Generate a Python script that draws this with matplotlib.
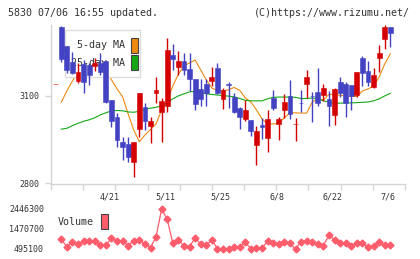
import matplotlib
matplotlib.use('Agg')
import matplotlib.pyplot as plt
from matplotlib.patches import Rectangle
import numpy as np

HEADER_LEFT = '5830 07/06 16:55 updated.'
HEADER_RIGHT = '(C)https://www.rizumu.net/'

DATE_LABELS = ['4/21', '5/11', '5/25', '6/8', '6/22', '7/6']
DATE_INDEX = [10, 20, 30, 40, 50, 60]
PRICE_TICKS = [2800, 3100]

OPEN = [3141, 3335, 3270, 3215, 3150, 3209, 3206, 3204, 3214, 3218,
        3086, 3029, 2943, 2935, 2875, 2988, 3061, 2997, 3111, 3046,
        3067, 3241, 3200, 3220, 3192, 3157, 3123, 3140, 3152, 3195,
        3090, 3140, 3096, 3060, 3022, 3018, 2930, 3001, 2954, 3092,
        3002, 3053, 3100, 3003, 3075, 3141, 3101, 3114, 3104, 3089,
        3035, 3148, 3141, 3137, 3104, 3230, 3186, 3132, 3231, 3296,
        3336]
CLOSE = [3142, 3225, 3189, 3178, 3183, 3149, 3172, 3214, 3181, 3078,
         3015, 2949, 2926, 2892, 2943, 3111, 3015, 3014, 3121, 3084,
         3258, 3227, 3220, 3189, 3158, 3072, 3090, 3111, 3164, 3111,
         3121, 3137, 3046, 3026, 3052, 2978, 2980, 2993, 3021, 3060,
         3021, 3079, 3037, 3004, 3074, 3165, 3100, 3074, 3127, 3067,
         3124, 3111, 3075, 3098, 3182, 3180, 3146, 3170, 3247, 3336,
         3317]
HIGH = [3142, 3340, 3270, 3250, 3214, 3223, 3212, 3229, 3246, 3220,
        3086, 3043, 2960, 2960, 2943, 3111, 3077, 3029, 3164, 3092,
        3298, 3278, 3255, 3248, 3246, 3157, 3157, 3157, 3200, 3212,
        3126, 3149, 3111, 3063, 3087, 3018, 2997, 3024, 3052, 3121,
        3027, 3107, 3155, 3024, 3121, 3189, 3115, 3195, 3141, 3118,
        3126, 3166, 3148, 3137, 3182, 3237, 3220, 3195, 3275, 3343,
        3336]
LOW = [3141, 3215, 3180, 3175, 3144, 3109, 3137, 3187, 3172, 3076,
       2995, 2926, 2881, 2875, 2823, 2960, 2983, 2938, 3075, 2943,
       3046, 3189, 3172, 3172, 3118, 3050, 3066, 3066, 3135, 3107,
       3054, 3059, 3041, 2988, 3014, 2963, 2863, 2952, 2909, 3052,
       2949, 3024, 3022, 2947, 3046, 3092, 3012, 3066, 3084, 2997,
       3001, 3096, 3029, 3052, 3096, 3134, 3134, 3126, 3183, 3261,
       3269]
MA5 = [np.nan, 3078, 3117, 3151, 3182, 3196, 3203, 3206, 3203, 3189,
       3155, 3124, 3097, 3038, 2983, 2943, 2966, 2985, 3004, 3052,
       3086, 3134, 3175, 3203, 3213, 3223, 3189, 3155, 3127, 3118,
       3117, 3121, 3129, 3119, 3093, 3079, 3052, 3021, 3004, 3004,
       3006, 3025, 3042, 3042, 3041, 3041, 3079, 3090, 3086, 3105,
       3105, 3102, 3100, 3098, 3098, 3117, 3124, 3133, 3165, 3210,
       3244]
MA25 = [np.nan, 2986, 2989, 2998, 3006, 3013, 3018, 3025, 3035, 3042,
        3049, 3050, 3049, 3045, 3044, 3047, 3054, 3058, 3061, 3066,
        3076, 3090, 3100, 3107, 3114, 3115, 3112, 3107, 3105, 3103,
        3101, 3099, 3097, 3091, 3085, 3083, 3083, 3083, 3090, 3095,
        3096, 3096, 3096, 3095, 3091, 3091, 3093, 3090, 3083, 3079,
        3075, 3075, 3076, 3076, 3077, 3078, 3079, 3083, 3090, 3100,
        3109]
VOLUME = [np.nan, 968000, 607000, 822000, 739000, 885000, 885000, 885000, 690000, 690000,
          1017000, 885000, 885000, 656000, 900000, 934000, 739000, 558000, 1095000, 2446300,
          1944000, 773000, 934000, 641000, 607000, 1046000, 724000, 690000, 934000, 510000,
          510000, 500000, 578000, 580000, 822000, 497000, 558000, 530000, 885000, 773000,
          739000, 822000, 773000, 495100, 851000, 885000, 822000, 739000, 656000, 1178000,
          934000, 773000, 780000, 656000, 773000, 773000, 607000, 656000, 822000, 690000,
          690000]

UP = '#d40000'
DOWN = '#4242c2'
ORANGE = '#ee8a10'
GREEN = '#15a815'
VOLC = '#ff5c6c'
GRID = '#d4d4d4'
TXT = '#333333'
FONT = 'DejaVu Sans Mono'

W, H = 420, 259
fig = plt.figure(figsize=(W / 100, H / 100), dpi=100)


def fx(px):
    return px / W


def fy(py):
    return 1 - py / H


x = np.arange(len(OPEN))
o = np.array(OPEN, float)
c = np.array(CLOSE, float)
colors = [UP if cc >= oo else DOWN for oo, cc in zip(o, c)]
xlim = (-0.84, 62.63)

# price panel
ax = fig.add_axes([fx(51), fy(184), fx(354), 159 / H])
ax.set_xlim(*xlim)
ax.set_ylim(2798, 3343)
ax.vlines(x, LOW, HIGH, colors=colors, linewidth=1.0, zorder=4)
ax.bar(x, np.abs(c - o), bottom=np.minimum(o, c), width=0.86, color=colors,
       edgecolor=colors, linewidth=0.4, zorder=4)
ax.plot(x, MA5, color=ORANGE, linewidth=0.8, zorder=2)
ax.plot(x, MA25, color=GREEN, linewidth=0.8, zorder=2)

for s in ['top', 'right']:
    ax.spines[s].set_visible(False)
for s in ['left', 'bottom']:
    ax.spines[s].set_color(GRID)
    ax.spines[s].set_linewidth(1)
ax.set_yticks(PRICE_TICKS)
ax.set_yticklabels([str(v) for v in PRICE_TICKS], fontsize=6, family=FONT, color=TXT)
ax.set_xticks(np.linspace(xlim[0], xlim[1], 12))
ax.set_xticklabels([])
ax.tick_params(axis='both', colors=GRID, length=4.5, width=1, labelcolor=TXT)
ax.tick_params(axis='y', pad=4)

for i, lab in zip(DATE_INDEX, DATE_LABELS):
    ax.text(i - 0.4, -0.082, lab, transform=ax.get_xaxis_transform(),
            ha='center', va='center', fontsize=6, family=FONT, color=TXT)

# moving-average legend box, sitting under the candles
ax.add_patch(Rectangle((fx(65), fy(77)), fx(75), 47 / H, transform=fig.transFigure,
                       facecolor='white', edgecolor='#dddddd', linewidth=1,
                       zorder=3, clip_on=False))
for label, col, ty in [('5-day MA', ORANGE, 45.5), ('25-day MA', GREEN, 62.5)]:
    ax.text(fx(125), fy(ty), label, transform=fig.transFigure, ha='right',
            va='center', fontsize=7.2, family=FONT, color=TXT, zorder=3)
    ax.add_patch(Rectangle((fx(131), fy(ty + 7.5)), fx(6.7), 15 / H,
                           transform=fig.transFigure, facecolor=col,
                           edgecolor='#444444', linewidth=0.8, zorder=3,
                           clip_on=False))

# volume panel
vol = np.array(VOLUME, float)
vmin, vmax = np.nanmin(vol), np.nanmax(vol)
axv = fig.add_axes([fx(51), fy(249), fx(354), 40 / H])
axv.set_xlim(*xlim)
axv.set_ylim(vmin, vmax)
axv.plot(x, vol, color=VOLC, linewidth=0.9, marker='D', markersize=3.5,
         clip_on=False)
for s in axv.spines.values():
    s.set_visible(False)
axv.set_xticks([])
axv.set_yticks([vmin, (vmin + vmax) / 2, vmax])
axv.set_yticklabels(['%d' % v for v in [vmin, (vmin + vmax) / 2, vmax]],
                    fontsize=6, family=FONT, color=TXT)
axv.tick_params(axis='y', length=0, pad=5)
fig.text(fx(58), fy(222), 'Volume', ha='left', va='center', fontsize=7.2,
         family=FONT, color=TXT)
fig.patches.append(Rectangle((fx(101.3), fy(228.5)), fx(6.5), 15 / H,
                             transform=fig.transFigure, facecolor=VOLC,
                             edgecolor='#444444', linewidth=0.8))

fig.text(fx(8), fy(12.5), HEADER_LEFT, ha='left', va='center', fontsize=7.2,
         family=FONT, color=TXT)
fig.text(fx(410), fy(12.5), HEADER_RIGHT, ha='right', va='center', fontsize=7.2,
         family=FONT, color=TXT)

fig.savefig('out.png', dpi=100)
